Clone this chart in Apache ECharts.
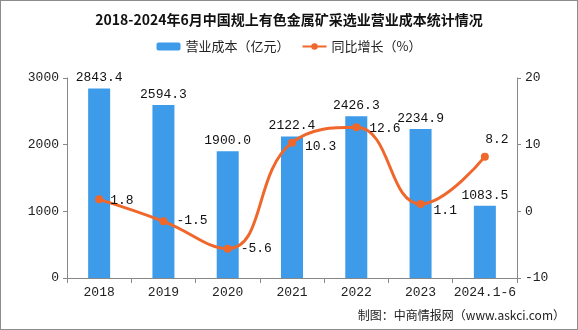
<!DOCTYPE html>
<html>
<head>
<meta charset="utf-8">
<script src="https://cdn.jsdelivr.net/npm/echarts@6/dist/echarts.min.js"></script>
<style>
  html, body { margin: 0; padding: 0; background: #fff; }
  #chart { width: 576px; height: 328px; border: 1px solid #8c8c8c; }
</style>
</head>
<body>
<div id="chart"></div>
<script>
// 2018–2024H1 operating cost of nonferrous metal mining (above designated size)
const categories = ['2018', '2019', '2020', '2021', '2022', '2023', '2024.1-6'];
const costValues = [2843.4, 2594.3, 1900.0, 2122.4, 2426.3, 2234.9, 1083.5];
const growthValues = [1.8, -1.5, -5.6, 10.3, 12.6, 1.1, 8.2];
const leftTicks = { min: 0, max: 3000, interval: 1000 };
const rightTicks = { min: -10, max: 20, interval: 10 };

// per-point placement of the growth labels
const labelPos = ['right', 'right', 'right', 'right', 'right', 'right', 'top'];
const labelOffset = [[0, 1], [2, -1], [2, 0], [2, 4], [2, 1], [2, 7], [12, 0]];

const font = '"Noto Sans CJK SC", "DejaVu Sans", sans-serif';
const mono = '"Liberation Mono", "DejaVu Sans Mono", monospace';
const chart = echarts.init(document.getElementById('chart'), null, { renderer: 'canvas' });

chart.setOption({
  animation: false,
  textStyle: { fontFamily: font },
  title: {
    text: '2018-2024年6月中国规上有色金属矿采选业营业成本统计情况',
    left: 'center',
    top: 7,
    textStyle: { fontSize: 14, fontWeight: 'bold', color: '#111', fontFamily: font }
  },
  legend: {
    top: 34,
    left: 'center',
    itemGap: 12,
    itemWidth: 24,
    itemHeight: 8,
    textStyle: { fontSize: 13, color: '#222', fontFamily: font },
    data: [
      { name: '营业成本（亿元）', icon: 'roundRect' },
      { name: '同比增长（%）' }
    ]
  },
  graphic: [{
    type: 'text',
    right: 12,
    bottom: 8,
    style: {
      text: '制图：中商情报网（www.askci.com）',
      fontSize: 12,
      fill: '#222',
      fontFamily: font
    }
  }],
  grid: { left: 66, right: 60, top: 77, bottom: 51 },
  xAxis: {
    type: 'category',
    data: categories,
    axisLine: { lineStyle: { color: '#888' } },
    axisTick: { show: true, alignWithLabel: false, lineStyle: { color: '#888' } },
    axisLabel: { interval: 0, color: '#222', fontSize: 13, margin: 8, fontFamily: mono }
  },
  yAxis: [
    {
      type: 'value',
      min: leftTicks.min, max: leftTicks.max, interval: leftTicks.interval,
      axisLine: { show: true, lineStyle: { color: '#888' } },
      axisTick: { show: true, length: 4, lineStyle: { color: '#888' } },
      axisLabel: { color: '#222', fontSize: 13, margin: 8, fontFamily: mono, formatter: v => String(v) },
      splitLine: { show: false }
    },
    {
      type: 'value',
      min: rightTicks.min, max: rightTicks.max, interval: rightTicks.interval,
      axisLine: { show: true, lineStyle: { color: '#888' } },
      axisTick: { show: true, length: 4, lineStyle: { color: '#888' } },
      axisLabel: { color: '#222', fontSize: 13, margin: 8, fontFamily: mono, formatter: v => String(v) },
      splitLine: { show: false }
    }
  ],
  series: [
    {
      name: '营业成本（亿元）',
      type: 'bar',
      data: costValues,
      barWidth: 22,
      itemStyle: { color: '#3d9be9' },
      label: {
        show: true,
        position: 'top',
        distance: 4,
        color: '#111',
        fontSize: 13,
        fontFamily: mono,
        formatter: p => p.value.toFixed(1)
      }
    },
    {
      name: '同比增长（%）',
      type: 'line',
      yAxisIndex: 1,
      smooth: 0.45,
      data: growthValues.map((v, i) => ({
        value: v,
        label: { position: labelPos[i], offset: labelOffset[i] }
      })),
      symbol: 'circle',
      symbolSize: 8,
      lineStyle: { color: '#f0672b', width: 3 },
      itemStyle: { color: '#f0672b' },
      label: {
        show: true,
        distance: 7,
        color: '#111',
        fontSize: 13,
        fontFamily: mono,
        formatter: p => p.value.toFixed(1)
      },
      z: 3
    }
  ]
});
</script>
</body>
</html>
